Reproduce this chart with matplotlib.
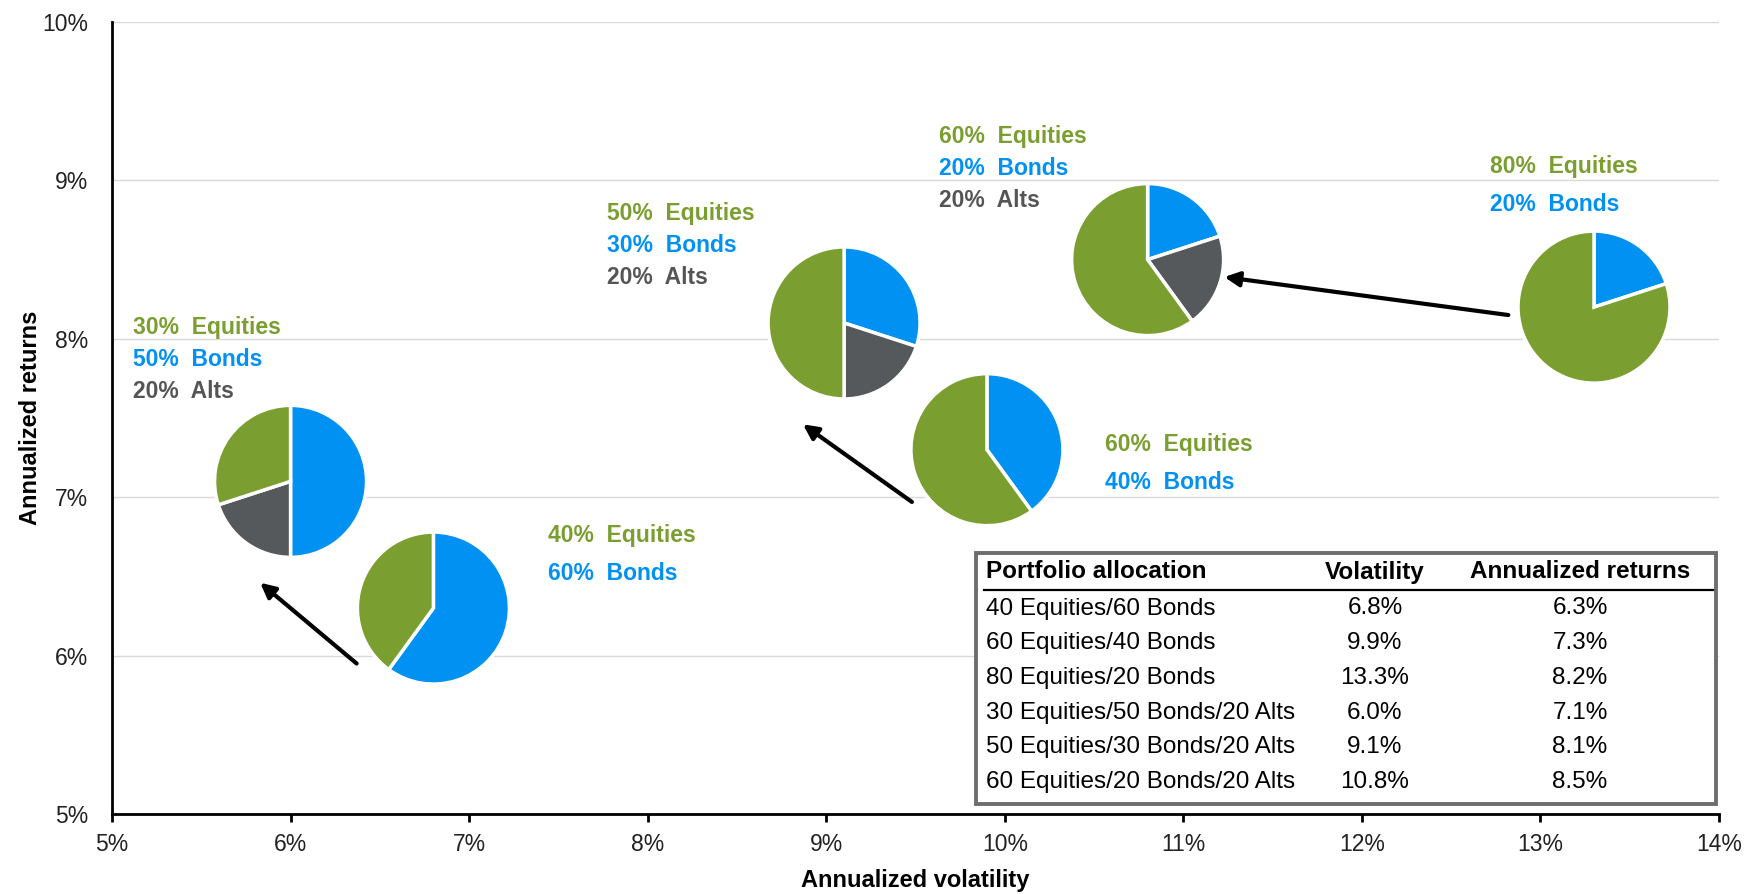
import numpy as np
import matplotlib
matplotlib.use('Agg')
import matplotlib.pyplot as plt
from matplotlib.patches import Rectangle
from matplotlib.lines import Line2D

plt.rcParams['font.family'] = ['Liberation Sans', 'DejaVu Sans']

# --- data -------------------------------------------------------------
portfolios = ['40 Equities/60 Bonds', '60 Equities/40 Bonds', '80 Equities/20 Bonds',
              '30 Equities/50 Bonds/20 Alts', '50 Equities/30 Bonds/20 Alts',
              '60 Equities/20 Bonds/20 Alts']
equities = [40, 60, 80, 30, 50, 60]
bonds = [60, 40, 20, 50, 30, 20]
alts = [0, 0, 0, 20, 20, 20]
volatility = [6.8, 9.9, 13.3, 6.0, 9.1, 10.8]
returns = [6.3, 7.3, 8.2, 7.1, 8.1, 8.5]

x_ticks = [5, 6, 7, 8, 9, 10, 11, 12, 13, 14]
y_ticks = [5, 6, 7, 8, 9, 10]

# --- layout (not data) ------------------------------------------------
# first-line anchor of the allocation text next to each pie, data coords
label_x = [7.44, 10.56, 12.72, 5.12, 7.77, 9.63]
label_y = [6.76, 7.33, 9.09, 8.07, 8.79, 9.28]
# arrows: start/end in data coords
arrows = [((6.37, 5.95), (5.83, 6.46)),
          ((9.48, 6.97), (8.87, 7.46)),
          ((12.82, 8.15), (11.23, 8.39))]

GREEN = '#7a9e2f'
BLUE = '#0091f2'
GRAY = '#55595c'

W_PX, H_PX = 1744, 894
fig = plt.figure(figsize=(W_PX / 100, H_PX / 100), dpi=100)
L, R_, T, B = 112, 1719, 22, 814
ax = fig.add_axes([L / W_PX, 1 - B / H_PX, (R_ - L) / W_PX, (B - T) / H_PX])

ax.set_xlim(5, 14)
ax.set_ylim(5, 10)
ax.set_xticks(x_ticks)
ax.set_yticks(y_ticks)
ax.set_xticklabels(['%d%%' % t for t in x_ticks])
ax.set_yticklabels(['%d%%' % t for t in y_ticks])
ax.yaxis.grid(True, color='#d9d9d9', lw=1)
ax.set_axisbelow(True)
for s in ['top', 'right']:
    ax.spines[s].set_visible(False)
for s in ['left', 'bottom']:
    ax.spines[s].set_linewidth(2)
ax.tick_params(axis='y', length=0, pad=17, labelsize=16.5, labelcolor='#222222')
ax.tick_params(axis='x', length=6, width=2, pad=8, labelsize=16.5, labelcolor='#222222')
ax.set_xlabel('Annualized volatility', fontsize=17, fontweight='bold', labelpad=9)
ax.set_ylabel('Annualized returns', fontsize=17, fontweight='bold', labelpad=0)

# pies, sized in pixels so they stay round
RAD = 76 * 1.05
rx = RAD / (R_ - L) * (x_ticks[-1] - x_ticks[0])
ry = RAD / (B - T) * (y_ticks[-1] - y_ticks[0])
for v, r, e, b, a in zip(volatility, returns, equities, bonds, alts):
    iax = ax.inset_axes([v - rx, r - ry, 2 * rx, 2 * ry], transform=ax.transData, zorder=3)
    vals, cols = [], []
    for val, col in [(b, BLUE), (a, GRAY), (e, GREEN)]:
        if val > 0:
            vals.append(val)
            cols.append(col)
    iax.pie(vals, colors=cols, startangle=90, counterclock=False, radius=1,
            wedgeprops=dict(edgecolor='white', linewidth=2.5))
    iax.set_xlim(-1.05, 1.05)
    iax.set_ylim(-1.05, 1.05)
    iax.set_aspect('equal')
    iax.axis('off')

# allocation labels
for i in range(len(portfolios)):
    lines = [('%d%%  Equities' % equities[i], GREEN), ('%d%%  Bonds' % bonds[i], BLUE)]
    if alts[i] > 0:
        lines.append(('%d%%  Alts' % alts[i], '#555555'))
    step = 0.2025 if len(lines) == 3 else 0.24
    for j, (txt, col) in enumerate(lines):
        ax.text(label_x[i], label_y[i] - j * step, txt, color=col, fontsize=16.5,
                fontweight='bold', va='center', ha='left', zorder=4)

for (x0, y0), (x1, y1) in arrows:
    ax.annotate('', xy=(x1, y1), xytext=(x0, y0), zorder=4,
                arrowprops=dict(arrowstyle='-|>', lw=3, color='black', mutation_scale=22,
                                shrinkA=0, shrinkB=0))


# --- table (figure pixel coordinates) ---------------------------------
def fx(px):
    return px / W_PX


def fy(py):
    return 1 - py / H_PX


box = Rectangle((fx(976), fy(804)), (1716 - 976) / W_PX, (804 - 553) / H_PX,
                transform=fig.transFigure, facecolor='white', edgecolor='#6e6e6e',
                lw=2.8, zorder=10)
fig.add_artist(box)
fig.add_artist(Line2D([fx(984), fx(1713)], [fy(590), fy(590)], transform=fig.transFigure,
                      color='black', lw=1.6, zorder=11))

hdr_y = 572
fig.text(fx(986), fy(hdr_y), 'Portfolio allocation', fontsize=17.5, fontweight='bold',
         ha='left', va='center', zorder=12)
fig.text(fx(1375), fy(hdr_y), 'Volatility', fontsize=17.5, fontweight='bold',
         ha='center', va='center', zorder=12)
fig.text(fx(1580), fy(hdr_y), 'Annualized returns', fontsize=17.5, fontweight='bold',
         ha='center', va='center', zorder=12)
for i, name in enumerate(portfolios):
    y = 608.5 + i * 34.7
    fig.text(fx(986), fy(y), name, fontsize=17.5, ha='left', va='center', zorder=12)
    fig.text(fx(1375), fy(y), '%.1f%%' % volatility[i], fontsize=17.5, ha='center',
             va='center', zorder=12)
    fig.text(fx(1580), fy(y), '%.1f%%' % returns[i], fontsize=17.5, ha='center',
             va='center', zorder=12)

fig.savefig('out.png', dpi=100)
